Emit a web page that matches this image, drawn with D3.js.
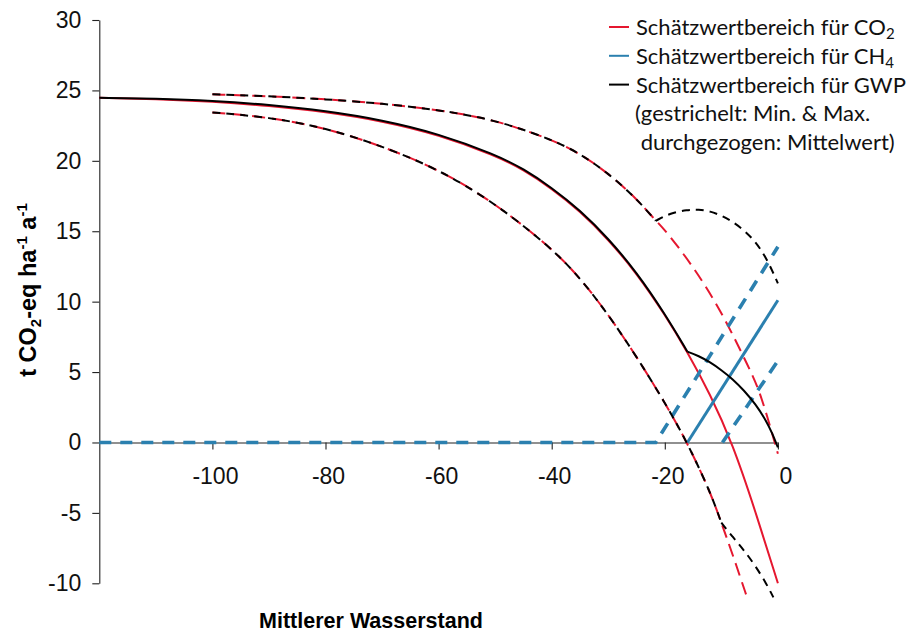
<!DOCTYPE html>
<html>
<head>
<meta charset="utf-8">
<script src="https://cdn.jsdelivr.net/npm/d3@7"></script>
<style>
  html, body { margin: 0; padding: 0; background: #fff; }
  svg { display: block; }
</style>
</head>
<body>
<svg id="chart" width="912" height="632"></svg>
<script>
// Mittlerer Wasserstand (cm) against emissions (t CO2-eq ha-1 a-1)

// CO2: mean, max and min
const co2Mean = [[-120,24.48],[-110,24.39],[-100,24.21],[-90,23.91],[-80,23.48],[-70,22.83],[-60,21.86],[-50,20.38],[-45,19.37],[-40,18.03],[-35,16.43],[-30,14.43],[-25,12.03],[-20,9.09],[-16,6.42],[-12,3.45],[-8,-0.1],[-4,-4.85],[0,-10.0]];
const co2Max = [[-100,24.72],[-90,24.59],[-80,24.38],[-70,24.07],[-60,23.62],[-50,22.92],[-40,21.52],[-35,20.52],[-30,19.12],[-25,17.32],[-21.6,15.74],[-20,15.12],[-15,12.52],[-10,9.32],[-5,5.22],[-3,3.45],[0,-0.8]];
const co2Min = [[-100,23.44],[-90,23.1],[-80,22.35],[-70,21.05],[-60,19.4],[-50,17.0],[-40,13.8],[-35,11.7],[-30,9.1],[-25,6.1],[-20,2.85],[-16,-0.03],[-12,-3.47],[-10,-5.7],[-8,-7.95],[-5.4,-11.07]];

// CH4: mean, max and min
const ch4Mean = [[-16,0],[0,10.1]];
const ch4Max = [[-120,0],[-21.6,0],[0,13.9]];
const ch4Min = [[-9.8,0],[0,5.8]];

// GWP: the part before CH4 sets in, and the part after it
const gwpMeanHead = [[-120,24.48],[-110,24.42],[-100,24.27],[-90,23.98],[-80,23.55],[-70,22.9],[-60,21.93],[-50,20.45],[-45,19.44],[-40,18.1],[-35,16.5],[-30,14.5],[-25,12.1],[-20,9.15],[-16,6.45]];
const gwpMeanTail = [[-16,6.45],[-14,6.15],[-12,5.7],[-10,5.15],[-8,4.5],[-6,3.7],[-4,2.75],[-2,1.5],[-1,0.65],[0,-0.35]];
const gwpMaxTail = [[-21.6,15.74],[-19,16.3],[-16,16.52],[-14,16.55],[-12,16.42],[-10,16.12],[-8,15.68],[-6,15.08],[-4,14.28],[-2,13.1],[0,11.3]];
const gwpMinTail = [[-10,-5.7],[-8,-6.7],[-6,-7.65],[-4,-8.75],[-2,-10.05],[-0.8,-11.0]];

const xTicks = [-100, -80, -60, -40, -20, 0];
const yTicks = [-10, -5, 0, 5, 10, 15, 20, 25, 30];

const legendRows = [
  { text: "Schätzwertbereich für CO", sub: "2", color: "#e5172f" },
  { text: "Schätzwertbereich für CH", sub: "4", color: "#2b80af" },
  { text: "Schätzwertbereich für GWP", sub: "", color: "#000000" }
];
const legendNote = ["(gestrichelt: Min. & Max.", " durchgezogen: Mittelwert)"];

const RED = "#e5172f", BLUE = "#2b80af", BLACK = "#000000";

const svg = d3.select("#chart");
const x = d3.scaleLinear().domain([-120, 0]).range([99.3, 777.9]);
const y = d3.scaleLinear().domain([-10, 30]).range([583.3, 20]);

// y axis
const yAxis = svg.append("g")
  .attr("transform", `translate(${x(-120)},0)`)
  .call(d3.axisLeft(y).tickValues(yTicks).tickSize(7).tickSizeOuter(0).tickPadding(11)
    .tickFormat(d => String(d)));
// x axis at zero
const xAxis = svg.append("g")
  .attr("transform", `translate(0,${y(0)})`)
  .call(d3.axisBottom(x).tickValues(xTicks).tickSize(7).tickSizeOuter(0).tickPadding(18)
    .tickFormat(d => String(d)));

[yAxis, xAxis].forEach(g => {
  g.selectAll("path.domain").attr("stroke", "#222").attr("stroke-width", 1.1);
  g.selectAll(".tick line").attr("stroke", "#222").attr("stroke-width", 1.1);
  g.selectAll(".tick text")
    .attr("fill", "#111")
    .style("font-family", "'Liberation Sans', Arial, sans-serif")
    .style("font-size", "23px");
});
xAxis.selectAll(".tick text").attr("dx", d => d === 0 ? 7.5 : 2.5);

// axis titles
svg.append("text")
  .attr("x", 371).attr("y", 628)
  .attr("text-anchor", "middle")
  .style("font-family", "'Liberation Sans', Arial, sans-serif")
  .style("font-weight", "bold").style("font-size", "21.5px")
  .attr("fill", "#000")
  .text("Mittlerer Wasserstand");

const yTitle = svg.append("text")
  .attr("transform", "translate(36,290) rotate(-90)")
  .attr("text-anchor", "middle")
  .style("font-family", "'Liberation Sans', Arial, sans-serif")
  .style("font-weight", "bold").style("font-size", "23.5px")
  .attr("fill", "#000");
yTitle.append("tspan").text("t CO");
yTitle.append("tspan").attr("dy", 5).style("font-size", "15px").text("2");
yTitle.append("tspan").attr("dy", -5).text("-eq ha");
yTitle.append("tspan").attr("dy", -9).style("font-size", "15px").text("-1");
yTitle.append("tspan").attr("dy", 9).text("  a");
yTitle.append("tspan").attr("dy", -9).style("font-size", "15px").text("-1");

// line drawing
const line = d3.line().x(d => x(d[0])).y(d => y(d[1])).curve(d3.curveBasis);
const straight = d3.line().x(d => x(d[0])).y(d => y(d[1]));
const plot = svg.append("g");
function draw(data, color, width, dash, gen) {
  plot.append("path")
    .attr("d", (gen || line)(data))
    .attr("fill", "none")
    .attr("stroke", color)
    .attr("stroke-width", width)
    .attr("stroke-dasharray", dash || null);
}

// CO2
draw(co2Max, RED, 2, "13,7");
draw(co2Min, RED, 2, "13,7");
draw(co2Mean, RED, 2);

// CH4
draw(ch4Max, BLUE, 3.6, "12,9", straight);
draw(ch4Min, BLUE, 3.6, "12,9", straight);
draw(ch4Mean, BLUE, 3, null, straight);

// GWP follows CO2 until CH4 sets in; the onset leaves a corner
const upTo = (arr, x0) => arr.filter(d => d[0] <= x0);
draw(upTo(co2Max, -21.6), BLACK, 2, "8,6");
draw(gwpMaxTail, BLACK, 2, "8,6");
draw(upTo(co2Min, -10), BLACK, 2, "8,6");
draw(gwpMinTail, BLACK, 2, "8,6");
draw(gwpMeanHead, BLACK, 2);
draw(gwpMeanTail, BLACK, 2);

// legend
const legend = svg.append("g")
  .style("font-family", "Lato, 'Open Sans', sans-serif")
  .style("font-size", "22px");
legendRows.forEach((r, i) => {
  const cy = 27 + i * 28.8;
  legend.append("line")
    .attr("x1", 609).attr("x2", 629).attr("y1", cy).attr("y2", cy)
    .attr("stroke", r.color).attr("stroke-width", 2);
  const t = legend.append("text").attr("x", 636).attr("y", cy + 8).attr("fill", "#111");
  t.append("tspan").text(r.text);
  if (r.sub) t.append("tspan").attr("dy", 4).style("font-size", "15px").text(r.sub);
});
legendNote.forEach((s, i) => {
  legend.append("text")
    .attr("x", 635).attr("y", 27 + (3 + i) * 28.8 + 8)
    .attr("fill", "#111")
    .style("white-space", "pre")
    .text(s);
});
</script>
</body>
</html>
